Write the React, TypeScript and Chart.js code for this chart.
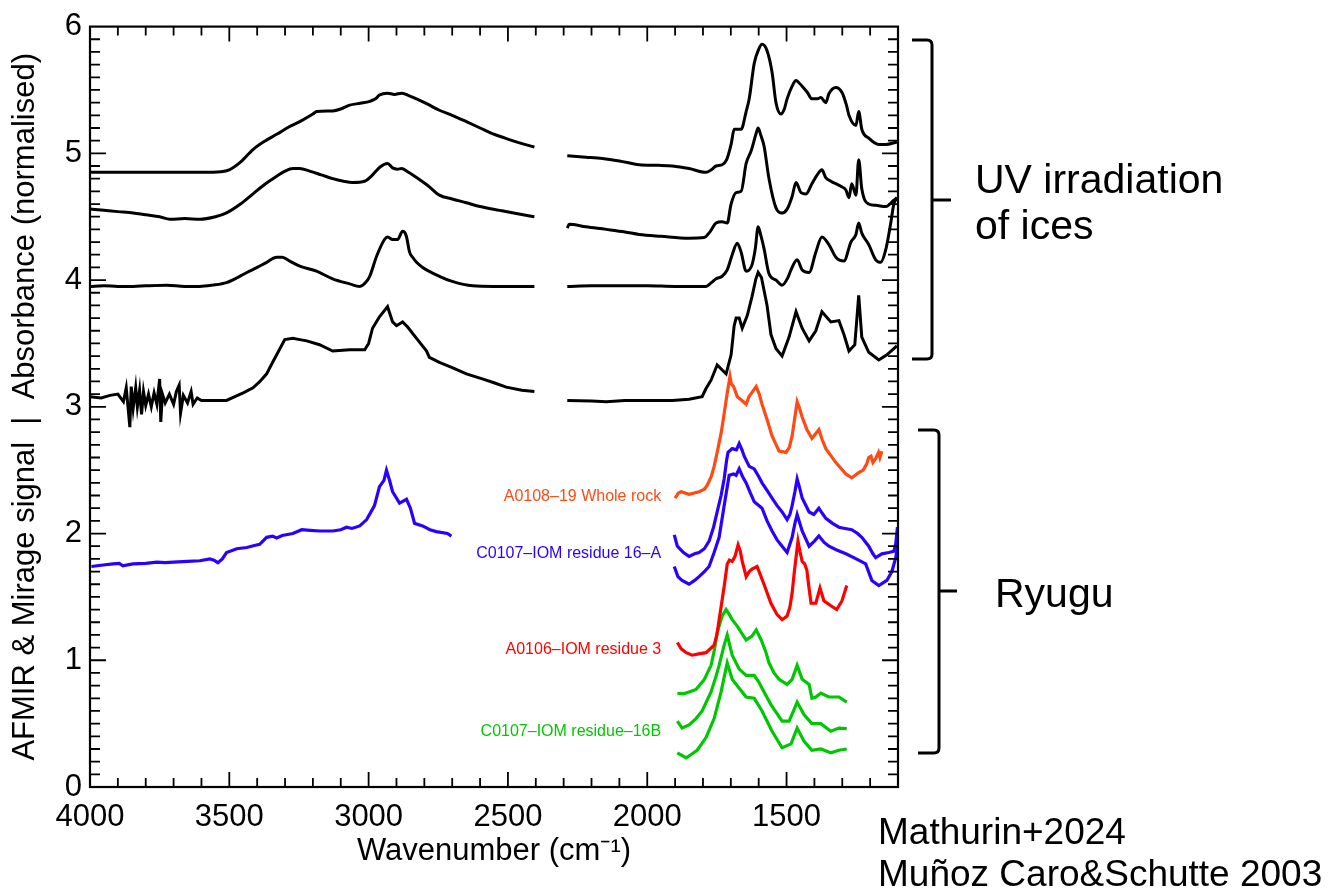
import React, { useEffect, useRef } from "react";
import { Chart, registerables } from "chart.js";

Chart.register(...registerables);

type P = [number, number];

const FONT = '"Liberation Sans", Arial, Helvetica, sans-serif';

const X_TICKS = [4000, 3500, 3000, 2500, 2000, 1500];
const Y_TICKS = [0, 1, 2, 3, 4, 5, 6];

// UV irradiation of ices (black), split at the 2400-2285 gap
const ICE1_L: P[] = [[4000,4.85],[3900,4.85],[3800,4.85],[3700,4.85],[3600,4.85],[3530,4.855],[3500,4.87],[3460,4.93],[3415,5.03],[3370,5.10],[3330,5.15],[3285,5.21],[3247,5.25],[3200,5.31],[3186,5.33],[3129,5.335],[3100,5.35],[3068,5.38],[3030,5.395],[2996,5.41],[2975,5.43],[2961,5.46],[2932,5.475],[2907,5.465],[2882,5.475],[2860,5.46],[2828,5.43],[2790,5.39],[2746,5.34],[2700,5.30],[2649,5.25],[2600,5.20],[2556,5.155],[2510,5.12],[2470,5.09],[2405,5.05]];
const ICE1_R: P[] = [[2287,4.98],[2220,4.97],[2161,4.96],[2100,4.94],[2029,4.91],[1960,4.905],[1910,4.90],[1850,4.88],[1789,4.85],[1770,4.87],[1753,4.90],[1731,4.91],[1715,4.95],[1699,5.07],[1688,5.19],[1663,5.19],[1645,5.33],[1634,5.43],[1616,5.71],[1600,5.82],[1588,5.86],[1570,5.81],[1552,5.64],[1538,5.40],[1520,5.31],[1508,5.35],[1498,5.43],[1480,5.53],[1466,5.575],[1455,5.555],[1444,5.53],[1425,5.48],[1409,5.43],[1390,5.43],[1377,5.44],[1359,5.40],[1348,5.47],[1323,5.52],[1301,5.48],[1285,5.38],[1276,5.30],[1251,5.22],[1241,5.33],[1230,5.19],[1205,5.12],[1169,5.07],[1144,5.07],[1104,5.09]];
const ICE2_L: P[] = [[4000,4.56],[3950,4.55],[3900,4.54],[3845,4.53],[3800,4.515],[3750,4.50],[3713,4.48],[3660,4.485],[3606,4.48],[3550,4.50],[3510,4.53],[3460,4.60],[3415,4.68],[3370,4.76],[3330,4.82],[3300,4.86],[3272,4.88],[3247,4.88],[3212,4.86],[3170,4.83],[3129,4.80],[3090,4.78],[3058,4.77],[3014,4.78],[2990,4.82],[2960,4.89],[2932,4.92],[2914,4.885],[2897,4.875],[2882,4.88],[2860,4.855],[2828,4.81],[2790,4.75],[2746,4.67],[2700,4.64],[2649,4.61],[2600,4.58],[2530,4.55],[2470,4.525],[2405,4.50]];
const ICE2_R: P[] = [[2287,4.41],[2280,4.44],[2220,4.42],[2147,4.40],[2080,4.38],[2029,4.36],[1950,4.345],[1850,4.33],[1796,4.335],[1775,4.38],[1753,4.45],[1731,4.46],[1713,4.45],[1699,4.60],[1681,4.69],[1663,4.70],[1645,4.92],[1627,5.02],[1610,5.15],[1602,5.20],[1592,5.14],[1581,5.06],[1563,4.80],[1538,4.57],[1516,4.53],[1498,4.56],[1480,4.66],[1466,4.77],[1448,4.69],[1430,4.68],[1409,4.76],[1390,4.83],[1373,4.87],[1360,4.81],[1341,4.78],[1305,4.74],[1287,4.71],[1276,4.65],[1266,4.76],[1251,4.67],[1241,4.95],[1230,4.72],[1205,4.60],[1180,4.59],[1144,4.58],[1115,4.63],[1104,4.65]];
const ICE3_L: P[] = [[4000,3.95],[3950,3.955],[3900,3.95],[3845,3.95],[3800,3.955],[3724,3.96],[3660,3.95],[3606,3.95],[3560,3.96],[3510,3.98],[3470,4.02],[3437,4.06],[3400,4.10],[3366,4.14],[3330,4.18],[3310,4.18],[3283,4.15],[3247,4.11],[3187,4.07],[3129,4.01],[3068,3.97],[3032,3.95],[3007,3.99],[2996,4.03],[2971,4.19],[2943,4.32],[2932,4.34],[2914,4.32],[2896,4.32],[2878,4.385],[2865,4.35],[2853,4.22],[2842,4.18],[2828,4.14],[2806,4.10],[2746,4.03],[2700,3.99],[2627,3.955],[2550,3.95],[2480,3.95],[2405,3.95]];
const ICE3_R: P[] = [[2287,3.95],[2200,3.955],[2100,3.955],[2000,3.955],[1900,3.95],[1789,3.95],[1770,3.98],[1753,4.01],[1731,4.03],[1713,4.08],[1695,4.20],[1677,4.29],[1663,4.22],[1645,4.07],[1624,4.12],[1612,4.25],[1602,4.42],[1592,4.35],[1581,4.25],[1563,4.05],[1538,4.00],[1516,3.96],[1495,4.02],[1484,4.08],[1462,4.16],[1444,4.08],[1419,4.06],[1395,4.22],[1373,4.34],[1348,4.28],[1323,4.18],[1294,4.15],[1269,4.30],[1251,4.36],[1241,4.45],[1230,4.37],[1205,4.28],[1180,4.16],[1162,4.14],[1144,4.24],[1126,4.45],[1115,4.60],[1102,4.65]];
const ICE4_L: P[] = [[4000,3.08],[3960,3.07],[3928,3.09],[3900,3.10],[3880,3.04],[3870,3.15],[3862,2.96],[3857,2.84],[3852,3.16],[3845,2.99],[3836,3.15],[3830,3.00],[3822,3.13],[3815,2.94],[3808,3.12],[3800,3.01],[3790,3.10],[3780,3.00],[3770,3.11],[3760,3.02],[3750,3.22],[3746,2.88],[3740,3.10],[3730,3.03],[3715,3.10],[3700,3.02],[3690,3.12],[3680,3.17],[3675,2.95],[3665,3.09],[3650,3.03],[3637,3.12],[3630,3.02],[3615,3.07],[3600,3.05],[3560,3.05],[3510,3.05],[3480,3.08],[3450,3.11],[3415,3.15],[3390,3.20],[3366,3.26],[3345,3.35],[3330,3.41],[3301,3.53],[3272,3.54],[3247,3.53],[3222,3.52],[3176,3.49],[3129,3.44],[3068,3.45],[3014,3.45],[3000,3.50],[2986,3.62],[2961,3.71],[2932,3.79],[2914,3.67],[2900,3.64],[2878,3.67],[2860,3.63],[2828,3.54],[2792,3.44],[2782,3.39],[2746,3.35],[2700,3.31],[2649,3.26],[2592,3.22],[2550,3.19],[2506,3.155],[2450,3.13],[2405,3.12]];
const ICE4_R: P[] = [[2287,3.05],[2200,3.045],[2147,3.04],[2080,3.05],[2029,3.05],[1960,3.05],[1910,3.05],[1850,3.06],[1803,3.08],[1790,3.14],[1771,3.21],[1749,3.33],[1731,3.29],[1717,3.26],[1699,3.41],[1688,3.64],[1681,3.70],[1670,3.70],[1659,3.62],[1641,3.72],[1624,3.87],[1610,4.01],[1602,4.06],[1590,4.02],[1570,3.80],[1556,3.57],[1538,3.46],[1516,3.40],[1491,3.55],[1466,3.75],[1444,3.62],[1419,3.52],[1395,3.60],[1373,3.75],[1341,3.67],[1312,3.68],[1294,3.57],[1276,3.44],[1255,3.49],[1241,3.88],[1230,3.55],[1205,3.43],[1169,3.37],[1140,3.41],[1104,3.48]];

// Ryugu spectra
const AFMIR_BLUE: P[] = [[3995,1.74],[3960,1.75],[3917,1.76],[3895,1.765],[3882,1.745],[3860,1.755],[3846,1.76],[3800,1.765],[3760,1.775],[3730,1.77],[3700,1.775],[3650,1.78],[3606,1.785],[3570,1.80],[3555,1.79],[3541,1.77],[3525,1.80],[3510,1.85],[3473,1.88],[3437,1.89],[3410,1.905],[3391,1.915],[3366,1.97],[3345,1.98],[3330,1.965],[3310,1.985],[3272,2.00],[3240,2.03],[3210,2.025],[3176,2.02],[3129,2.02],[3100,2.03],[3079,2.05],[3060,2.04],[3032,2.06],[3007,2.11],[2979,2.22],[2961,2.37],[2945,2.42],[2936,2.50],[2925,2.42],[2914,2.33],[2889,2.24],[2864,2.27],[2850,2.20],[2835,2.08],[2806,2.06],[2780,2.03],[2757,2.015],[2717,2.00],[2703,1.98]];
const WHOLE_ROCK: P[] = [[1900,2.28],[1888,2.32],[1878,2.33],[1850,2.31],[1814,2.33],[1795,2.35],[1785,2.38],[1770,2.45],[1760,2.53],[1748,2.65],[1735,2.79],[1725,2.93],[1717,3.05],[1709,3.16],[1703,3.24],[1698,3.18],[1690,3.16],[1677,3.08],[1660,3.05],[1645,3.02],[1635,3.08],[1622,3.12],[1609,3.16],[1598,3.10],[1588,3.02],[1570,2.90],[1552,2.77],[1527,2.65],[1502,2.64],[1490,2.68],[1480,2.77],[1470,2.92],[1462,3.04],[1455,3.00],[1444,2.92],[1427,2.82],[1409,2.75],[1395,2.79],[1384,2.82],[1372,2.74],[1359,2.67],[1323,2.56],[1287,2.47],[1266,2.44],[1241,2.48],[1225,2.50],[1212,2.55],[1205,2.60],[1197,2.61],[1190,2.56],[1180,2.59],[1170,2.64],[1165,2.60],[1158,2.65]];
const RES16A_UPPER: P[] = [[1903,1.99],[1892,1.90],[1870,1.85],[1850,1.82],[1830,1.84],[1814,1.85],[1795,1.88],[1778,1.94],[1762,2.05],[1749,2.17],[1735,2.30],[1724,2.43],[1715,2.58],[1710,2.64],[1695,2.67],[1680,2.66],[1670,2.71],[1660,2.66],[1652,2.61],[1634,2.53],[1616,2.51],[1600,2.45],[1588,2.40],[1570,2.34],[1552,2.28],[1534,2.22],[1516,2.17],[1498,2.11],[1488,2.15],[1480,2.22],[1470,2.33],[1462,2.43],[1453,2.36],[1444,2.28],[1419,2.17],[1402,2.15],[1384,2.20],[1372,2.16],[1359,2.12],[1335,2.08],[1312,2.05],[1290,2.04],[1266,2.03],[1245,2.00],[1230,1.97],[1205,1.90],[1190,1.84],[1180,1.81],[1158,1.84],[1133,1.85],[1115,1.86],[1108,1.92],[1102,2.05]];
const RES16A_LOWER: P[] = [[1903,1.74],[1890,1.66],[1875,1.63],[1850,1.60],[1830,1.63],[1814,1.66],[1795,1.70],[1778,1.74],[1760,1.85],[1742,1.97],[1724,2.22],[1706,2.46],[1690,2.47],[1681,2.46],[1670,2.51],[1658,2.45],[1645,2.40],[1630,2.32],[1616,2.25],[1588,2.20],[1570,2.10],[1552,2.02],[1534,1.95],[1516,1.90],[1498,1.85],[1480,1.97],[1470,2.08],[1462,2.15],[1444,2.02],[1419,1.90],[1400,1.94],[1384,1.98],[1365,1.93],[1348,1.90],[1320,1.87],[1287,1.84],[1250,1.80],[1216,1.76],[1194,1.63],[1169,1.59],[1140,1.63],[1122,1.70],[1108,1.81],[1102,1.90]];
const RES3: P[] = [[1892,1.14],[1878,1.09],[1860,1.06],[1839,1.04],[1815,1.05],[1789,1.06],[1760,1.12],[1750,1.20],[1742,1.32],[1733,1.45],[1724,1.58],[1713,1.76],[1705,1.79],[1695,1.78],[1685,1.82],[1674,1.91],[1666,1.86],[1659,1.78],[1645,1.66],[1634,1.70],[1624,1.72],[1606,1.74],[1595,1.68],[1581,1.60],[1556,1.45],[1534,1.36],[1516,1.32],[1498,1.35],[1488,1.42],[1480,1.53],[1472,1.70],[1466,1.81],[1459,1.94],[1452,1.86],[1444,1.78],[1435,1.76],[1427,1.71],[1420,1.58],[1412,1.45],[1395,1.45],[1380,1.57],[1366,1.47],[1341,1.43],[1320,1.40],[1301,1.47],[1284,1.59]];
const RES16B_1: P[] = [[1892,0.74],[1870,0.735],[1850,0.75],[1825,0.77],[1796,0.845],[1771,0.96],[1760,1.07],[1749,1.22],[1731,1.35],[1717,1.40],[1705,1.36],[1695,1.32],[1677,1.27],[1660,1.21],[1645,1.16],[1624,1.19],[1609,1.24],[1591,1.16],[1575,1.07],[1563,0.98],[1545,0.90],[1527,0.85],[1498,0.81],[1480,0.85],[1462,0.96],[1444,0.85],[1419,0.81],[1409,0.70],[1395,0.71],[1377,0.74],[1348,0.71],[1312,0.71],[1284,0.67]];
const RES16B_2: P[] = [[1892,0.52],[1875,0.465],[1850,0.49],[1825,0.54],[1803,0.60],[1771,0.75],[1755,0.86],[1742,0.96],[1724,1.12],[1713,1.20],[1695,1.04],[1670,0.93],[1645,0.88],[1616,0.88],[1600,0.83],[1588,0.78],[1556,0.65],[1516,0.52],[1491,0.52],[1475,0.60],[1462,0.67],[1437,0.57],[1409,0.50],[1377,0.50],[1341,0.44],[1312,0.465],[1284,0.46]];
const RES16B_3: P[] = [[1892,0.27],[1860,0.23],[1840,0.26],[1821,0.29],[1789,0.39],[1760,0.54],[1735,0.75],[1713,0.98],[1695,0.85],[1670,0.78],[1645,0.71],[1616,0.70],[1588,0.60],[1552,0.44],[1516,0.31],[1484,0.34],[1462,0.465],[1437,0.36],[1409,0.29],[1377,0.30],[1341,0.27],[1312,0.29],[1284,0.30]];

const SAMPLE_LABELS = ["A0108–19 Whole rock", "C0107–IOM residue 16–A", "A0106–IOM residue 3", "C0107–IOM residue–16B"];
const SAMPLE_COLORS = ["#ff4a14", "#2a00ff", "#ff0000", "#00c800"];
const SAMPLE_LABEL_ANCHORS: P[] = [[1950, 2.29], [1950, 1.84], [1950, 1.085], [1950, 0.44]];

const GROUP_LABELS = [["UV irradiation", "of ices"], ["Ryugu"]];
const REFERENCES = ["Mathurin+2024", "Muñoz Caro&Schutte 2003"];

const toXY = (a: P[]) => a.map(([x, y]) => ({ x, y }));

const framePlugin = {
  id: "idlFrame",
  afterDraw(chart: any) {
    const { ctx, chartArea: a, scales } = chart;
    const x = scales.x;
    const y = scales.y;
    ctx.save();
    ctx.strokeStyle = "#000";
    ctx.lineWidth = 1.8;
    ctx.beginPath();
    for (let v = 4000; v > 1100; v -= 100) {
      const px = x.getPixelForValue(v);
      const len = v % 500 === 0 ? 15 : 9;
      ctx.moveTo(px, a.bottom);
      ctx.lineTo(px, a.bottom - len);
      ctx.moveTo(px, a.top);
      ctx.lineTo(px, a.top + len);
    }
    for (let i = 1; i < 60; i++) {
      const py = y.getPixelForValue(i / 10);
      const len = i % 10 === 0 ? 16 : 10;
      ctx.moveTo(a.left, py);
      ctx.lineTo(a.left + len, py);
      ctx.moveTo(a.right, py);
      ctx.lineTo(a.right - len, py);
    }
    ctx.stroke();
    ctx.lineWidth = 2.2;
    ctx.strokeRect(a.left, a.top, a.right - a.left, a.bottom - a.top);

    // sample labels inside the plot
    ctx.font = `16px ${FONT}`;
    ctx.textAlign = "right";
    ctx.textBaseline = "middle";
    SAMPLE_LABELS.forEach((t, i) => {
      ctx.fillStyle = SAMPLE_COLORS[i];
      const [wx, wy] = SAMPLE_LABEL_ANCHORS[i];
      ctx.fillText(t, x.getPixelForValue(wx), y.getPixelForValue(wy));
    });

    // brackets
    ctx.strokeStyle = "#000";
    ctx.lineWidth = 3;
    ctx.lineJoin = "round";
    const bracket = (xv: number, x0: number, y0: number, y1: number, ym: number, xm: number) => {
      ctx.beginPath();
      ctx.moveTo(x0, y0);
      ctx.lineTo(xv - 5, y0);
      ctx.quadraticCurveTo(xv, y0, xv, y0 + 5);
      ctx.lineTo(xv, y1 - 5);
      ctx.quadraticCurveTo(xv, y1, xv - 5, y1);
      ctx.lineTo(x0, y1);
      ctx.moveTo(xv, ym);
      ctx.lineTo(xm, ym);
      ctx.stroke();
    };
    bracket(932, 912, 40, 359, 200, 951);
    bracket(939, 918, 430, 753, 591, 957);

    ctx.fillStyle = "#000";
    ctx.textAlign = "left";
    ctx.textBaseline = "alphabetic";
    ctx.font = `41px ${FONT}`;
    ctx.fillText(GROUP_LABELS[0][0], 975, 193);
    ctx.fillText(GROUP_LABELS[0][1], 975, 239);
    ctx.fillText(GROUP_LABELS[1][0], 995, 607);
    ctx.font = `37px ${FONT}`;
    ctx.fillText(REFERENCES[0], 878, 844);
    ctx.fillText(REFERENCES[1], 878, 886);
    ctx.restore();
  },
};

export default function App() {
  const ref = useRef<HTMLCanvasElement | null>(null);
  useEffect(() => {
    if (!ref.current) return;
    const black = (d: P[], smooth: boolean) => ({
      data: toXY(d),
      borderColor: "#000",
      borderWidth: 3,
      pointRadius: 0,
      cubicInterpolationMode: smooth ? "monotone" : "default",
      tension: 0,
    });
    const col = (d: P[], c: string) => ({
      data: toXY(d),
      borderColor: c,
      borderWidth: 3.2,
      pointRadius: 0,
      tension: 0,
    });
    const chart = new Chart(ref.current, {
      type: "line",
      data: {
        datasets: [
          black(ICE1_L, true), black(ICE1_R, true),
          black(ICE2_L, true), black(ICE2_R, true),
          black(ICE3_L, true), black(ICE3_R, true),
          black(ICE4_L, false), black(ICE4_R, false),
          col(AFMIR_BLUE, SAMPLE_COLORS[1]),
          col(WHOLE_ROCK, SAMPLE_COLORS[0]),
          col(RES16A_UPPER, SAMPLE_COLORS[1]),
          col(RES16A_LOWER, SAMPLE_COLORS[1]),
          col(RES3, SAMPLE_COLORS[2]),
          col(RES16B_1, SAMPLE_COLORS[3]),
          col(RES16B_2, SAMPLE_COLORS[3]),
          col(RES16B_3, SAMPLE_COLORS[3]),
        ] as any,
      },
      options: {
        animation: false,
        responsive: false,
        events: [],
        layout: { padding: { top: 13, right: 435, left: 0, bottom: 0 } },
        plugins: { legend: { display: false }, tooltip: { enabled: false } },
        scales: {
          x: {
            type: "linear",
            reverse: true,
            min: 1100,
            max: 4000,
            grid: { display: false, drawTicks: false },
            border: { display: false },
            ticks: {
              color: "#000",
              font: { family: FONT, size: 31 },
              padding: 12,
              maxRotation: 0,
              autoSkip: false,
              callback: (v: any) => String(v),
            },
            afterBuildTicks: (s: any) => { s.ticks = X_TICKS.map((v) => ({ value: v })); },
            afterFit: (s: any) => { s.height = 103; },
            title: { display: true, text: "Wavenumber (cm⁻¹)", color: "#000", font: { family: FONT, size: 31 }, padding: { top: 0, bottom: 20 } },
          },
          y: {
            type: "linear",
            min: 0,
            max: 6,
            grid: { display: false, drawTicks: false },
            border: { display: false },
            ticks: { color: "#000", font: { family: FONT, size: 31 }, padding: 8, callback: (v: any) => String(v) },
            afterBuildTicks: (s: any) => { s.ticks = Y_TICKS.map((v) => ({ value: v })); },
            afterFit: (s: any) => { s.width = 90; },
            title: { display: true, text: "AFMIR & Mirage signal  |  Absorbance (normalised)", color: "#000", font: { family: FONT, size: 31 }, padding: { top: 7, bottom: 0 } },
          },
        },
      } as any,
      plugins: [framePlugin],
    });
    return () => chart.destroy();
  }, []);
  return (
    <div style={{ position: "fixed", left: 0, top: 0, width: 1333, height: 890, background: "#fff" }}>
      <canvas ref={ref} width={1333} height={890} style={{ display: "block" }} />
    </div>
  );
}
